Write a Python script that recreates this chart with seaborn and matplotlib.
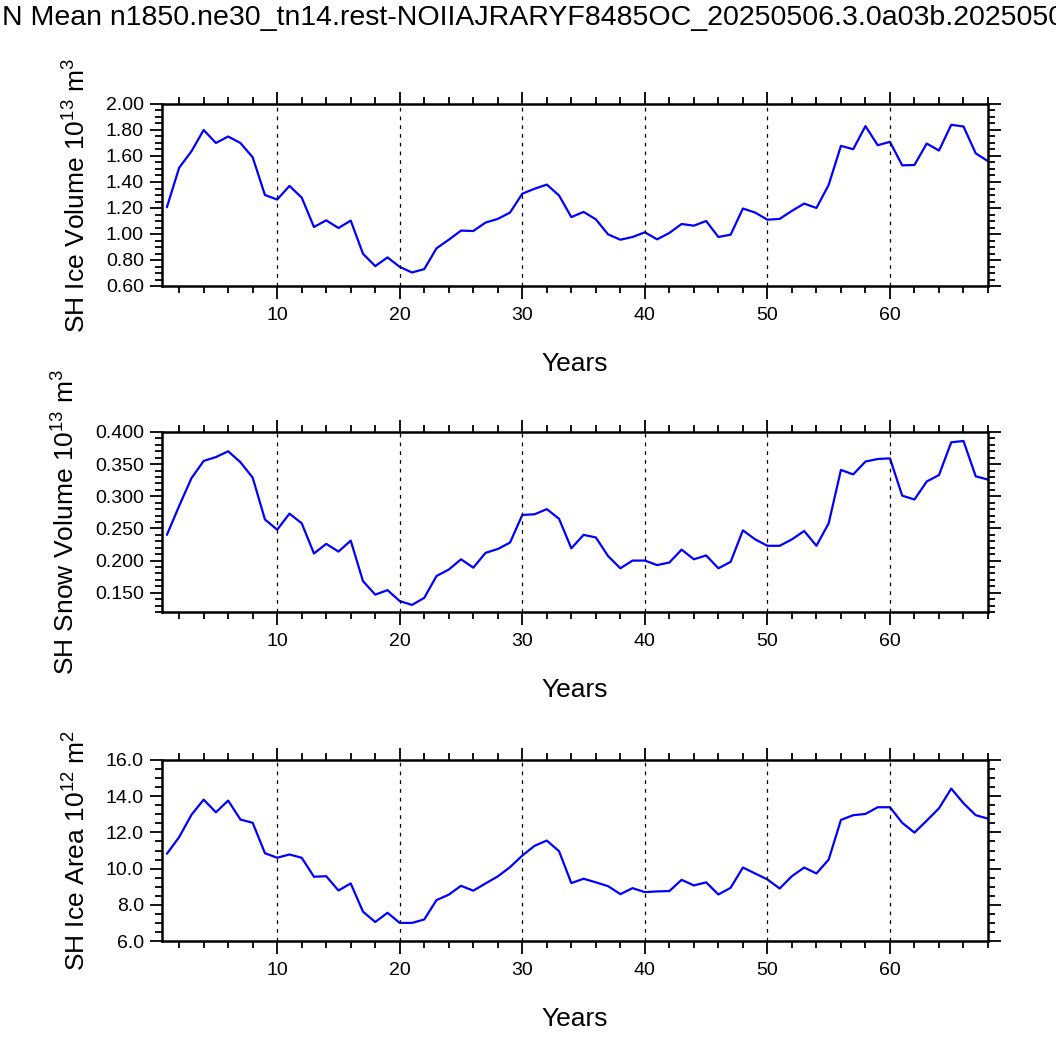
import numpy as np
import matplotlib
matplotlib.use("Agg")
import matplotlib.pyplot as plt
import seaborn as sns
from matplotlib.ticker import MultipleLocator, FormatStrFormatter

years = list(range(1, 69))

ice_volume = [1.206, 1.51, 1.636, 1.80, 1.70, 1.75, 1.70, 1.59, 1.30, 1.265,
              1.37, 1.28, 1.054, 1.105, 1.046, 1.103, 0.848, 0.753, 0.82, 0.747,
              0.704, 0.73, 0.89, 0.956, 1.026, 1.023, 1.088, 1.116, 1.165, 1.31,
              1.348, 1.38, 1.296, 1.13, 1.17, 1.113, 0.997, 0.956, 0.977, 1.013,
              0.959, 1.008, 1.077, 1.064, 1.10, 0.977, 0.995, 1.196, 1.165, 1.11,
              1.116, 1.178, 1.234, 1.20, 1.378, 1.678, 1.652, 1.83, 1.683, 1.709,
              1.528, 1.531, 1.696, 1.642, 1.84, 1.827, 1.62, 1.56]

snow_volume = [0.240, 0.285, 0.328, 0.355, 0.361, 0.370, 0.353, 0.329, 0.264, 0.248,
               0.273, 0.258, 0.211, 0.226, 0.214, 0.231, 0.168, 0.147, 0.154, 0.137,
               0.131, 0.142, 0.176, 0.186, 0.202, 0.189, 0.212, 0.218, 0.228, 0.271,
               0.272, 0.280, 0.265, 0.219, 0.240, 0.236, 0.207, 0.188, 0.200, 0.200,
               0.193, 0.197, 0.217, 0.202, 0.208, 0.188, 0.198, 0.247, 0.233, 0.223,
               0.223, 0.233, 0.246, 0.223, 0.258, 0.341, 0.334, 0.354, 0.358, 0.359,
               0.301, 0.295, 0.323, 0.333, 0.384, 0.386, 0.331, 0.326]

ice_area = [10.82, 11.74, 12.97, 13.81, 13.11, 13.76, 12.71, 12.53, 10.85, 10.60,
            10.78, 10.60, 9.55, 9.58, 8.79, 9.18, 7.62, 7.05, 7.56, 7.00,
            7.00, 7.19, 8.26, 8.56, 9.05, 8.78, 9.18, 9.57, 10.08, 10.72,
            11.26, 11.55, 10.96, 9.20, 9.44, 9.24, 9.03, 8.59, 8.92, 8.70,
            8.74, 8.76, 9.38, 9.07, 9.24, 8.57, 8.94, 10.06, 9.73, 9.40,
            8.90, 9.58, 10.06, 9.73, 10.50, 12.69, 12.95, 13.02, 13.39, 13.39,
            12.53, 11.99, 12.65, 13.33, 14.42, 13.61, 12.95, 12.76]

sns.set_style("ticks")
plt.rcParams['font.family'] = ['Liberation Sans', 'DejaVu Sans']
plt.rcParams['mathtext.fontset'] = 'custom'
plt.rcParams['mathtext.rm'] = 'Liberation Sans'

W, H = 1056, 1038
fig = plt.figure(figsize=(W / 100, H / 100), dpi=100)

panels = [
    (ice_volume, "SH Ice Volume 10$^{13}$ m$^3$", (0.6, 2.0), 0.2, 0.05, "%.2f", 104, 286),
    (snow_volume, "SH Snow Volume 10$^{13}$ m$^3$", (0.12, 0.40), 0.05, 0.01, "%.3f", 432, 612),
    (ice_area, "SH Ice Area 10$^{12}$ m$^2$", (6.0, 16.0), 2.0, 0.5, "%.1f", 760, 941),
]

for vals, ylab, ylim, major, minor, fmt, top, bot in panels:
    ax = fig.add_axes([162 / W, 1 - bot / H, (988 - 162) / W, (bot - top) / H])
    sns.lineplot(x=years, y=vals, ax=ax, color="blue", linewidth=1.6)
    ax.set_xlim(0.6, 68)
    ax.set_ylim(*ylim)
    ax.xaxis.set_major_locator(MultipleLocator(10))
    ax.xaxis.set_minor_locator(MultipleLocator(2))
    ax.yaxis.set_major_locator(MultipleLocator(major))
    ax.yaxis.set_minor_locator(MultipleLocator(minor))
    ax.yaxis.set_major_formatter(FormatStrFormatter(fmt))
    ax.tick_params(which='both', direction='out', top=True, right=True, width=1.3,
                   labelsize=14, colors='black')
    ax.tick_params(which='major', length=9, pad=4)
    ax.tick_params(axis='x', which='major', pad=6)
    ax.tick_params(which='minor', length=5)
    for s in ax.spines.values():
        s.set_linewidth(1.8)
        s.set_color('black')
    for xv in range(10, 61, 10):
        ax.axvline(xv, color="black", linestyle=(0, (3, 4)), linewidth=0.9)
    ax.set_xlabel("Years", fontsize=19, labelpad=20, color='black')
    ax.set_ylabel(ylab, fontsize=19, labelpad=12, color='black')

fig.text(0.002, 1 - 18 / H, "N Mean n1850.ne30_tn14.rest-NOIIAJRARYF8485OC_20250506.3.0a03b.20250506",
         ha='left', va='center', fontsize=20.5, color='black')

plt.savefig("out.png", dpi=100)
